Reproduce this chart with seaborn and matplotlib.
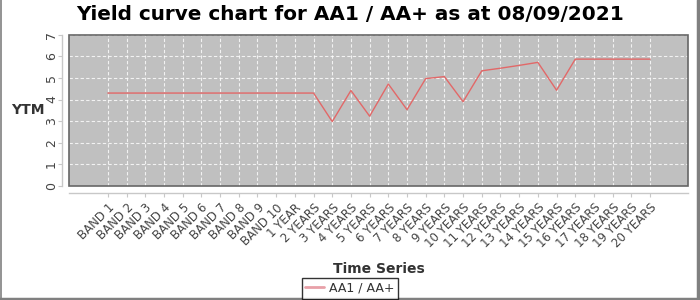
import matplotlib
matplotlib.use("Agg")
import matplotlib.pyplot as plt
import seaborn as sns
import pandas as pd
from matplotlib.lines import Line2D
from matplotlib.patches import Rectangle

# ---- data ----
categories = ["BAND 1", "BAND 2", "BAND 3", "BAND 4", "BAND 5", "BAND 6", "BAND 7",
              "BAND 8", "BAND 9", "BAND 10", "1 YEAR", "2 YEARS", "3 YEARS", "4 YEARS",
              "5 YEARS", "6 YEARS", "7 YEARS", "8 YEARS", "9 YEARS", "10 YEARS",
              "11 YEARS", "12 YEARS", "13 YEARS", "14 YEARS", "15 YEARS", "16 YEARS",
              "17 YEARS", "18 YEARS", "19 YEARS", "20 YEARS"]
ytm = [4.30, 4.30, 4.30, 4.30, 4.30, 4.30, 4.30, 4.30, 4.30, 4.30,
       4.30, 4.30, 2.98, 4.42, 3.23, 4.72, 3.53, 4.97, 5.06, 3.90,
       5.33, 5.45, 5.58, 5.72, 4.43, 5.87, 5.87, 5.87, 5.87, 5.87]
yticks = [0, 1, 2, 3, 4, 5, 6, 7]
series_name = "AA1 / AA+"
title = "Yield curve chart for AA1 / AA+ as at 08/09/2021"

df = pd.DataFrame({"Time Series": categories, "YTM": ytm, "series": series_name})

sns.set_style("white")
plt.rcParams["font.family"] = ["DejaVu Sans"]

fig = plt.figure(figsize=(7, 3), dpi=100)
ax = fig.add_axes([69 / 700, 1 - 186 / 300, (688 - 69) / 700, (186 - 34.7) / 300])
ax.set_facecolor("#c0c0c0")

line_color = "#e26868"
sns.lineplot(data=df, x="Time Series", y="YTM", sort=False, ax=ax,
             color=line_color, linewidth=1.0, legend=False)

ax.set_xlim(-2.08, 31.03)
ax.set_ylim(0, 7)

for s in ["top", "right"]:
    ax.spines[s].set_visible(False)
for s in ["left", "bottom"]:
    ax.spines[s].set_position(("outward", 5))
    ax.spines[s].set_color("#c8c8c8")
    ax.spines[s].set_linewidth(1.0)
ax.tick_params(axis="both", which="both", length=3, width=0.8, color="#c8c8c8",
               left=True, bottom=True, pad=3)
ax.tick_params(axis="y", pad=0)

ax.set_yticks(yticks)
ax.set_yticklabels([str(v) for v in yticks])
ax.set_xticks(range(len(categories)))
ax.set_xticklabels(categories)
plt.setp(ax.get_yticklabels(), fontsize=9, color="#444444")
plt.setp(ax.get_xticklabels(), fontsize=8.5, color="#444444")
ax.tick_params(axis="x", labelrotation=45)
ax.tick_params(axis="y", labelrotation=90)
plt.setp(ax.get_xticklabels(), ha="right", va="top", rotation_mode="anchor")
plt.setp(ax.get_yticklabels(), ha="center", va="bottom", rotation_mode="anchor")

ax.grid(True, color="white", linestyle=(0, (3, 2)), linewidth=0.8, alpha=0.8)
ax.set_axisbelow(True)
ax.add_patch(Rectangle((0, 0), 1, 1, transform=ax.transAxes, fill=False,
                       edgecolor="#666666", linewidth=1.2, clip_on=False, zorder=5))

ax.set_xlabel("Time Series", fontsize=10, fontweight="bold", color="#333333")
ax.set_ylabel("YTM", fontsize=10, fontweight="bold", color="#333333", rotation=0,
              va="center", ha="center")
ax.yaxis.set_label_coords(-0.067, 0.5)
ax.xaxis.set_label_coords(0.5, -0.50)

fig.suptitle(title, fontsize=14.4, fontweight="bold", color="black", x=0.5, y=0.985)

handle = Line2D([], [], color="#e8a0a8", linewidth=2)
leg = fig.legend([handle], [series_name], loc="lower center", bbox_to_anchor=(0.5, 0.005),
                 frameon=True, fancybox=False, edgecolor="black", fontsize=9,
                 handlelength=1.5, handletextpad=0.4, borderpad=0.3, borderaxespad=0)
leg.get_frame().set_linewidth(1.0)
for t in leg.get_texts():
    t.set_color("#333333")

# figure border
fig.add_artist(Line2D([0.5 / 700, 0.5 / 700], [0, 1], transform=fig.transFigure,
                      color="#808080", linewidth=1.2))
fig.add_artist(Line2D([0, 1], [1 / 300, 1 / 300], transform=fig.transFigure,
                      color="#808080", linewidth=2.5))
fig.add_artist(Line2D([697.5 / 700, 697.5 / 700], [0, 1], transform=fig.transFigure,
                      color="#808080", linewidth=2.5))

fig.savefig("out.png", dpi=100, facecolor="white")
